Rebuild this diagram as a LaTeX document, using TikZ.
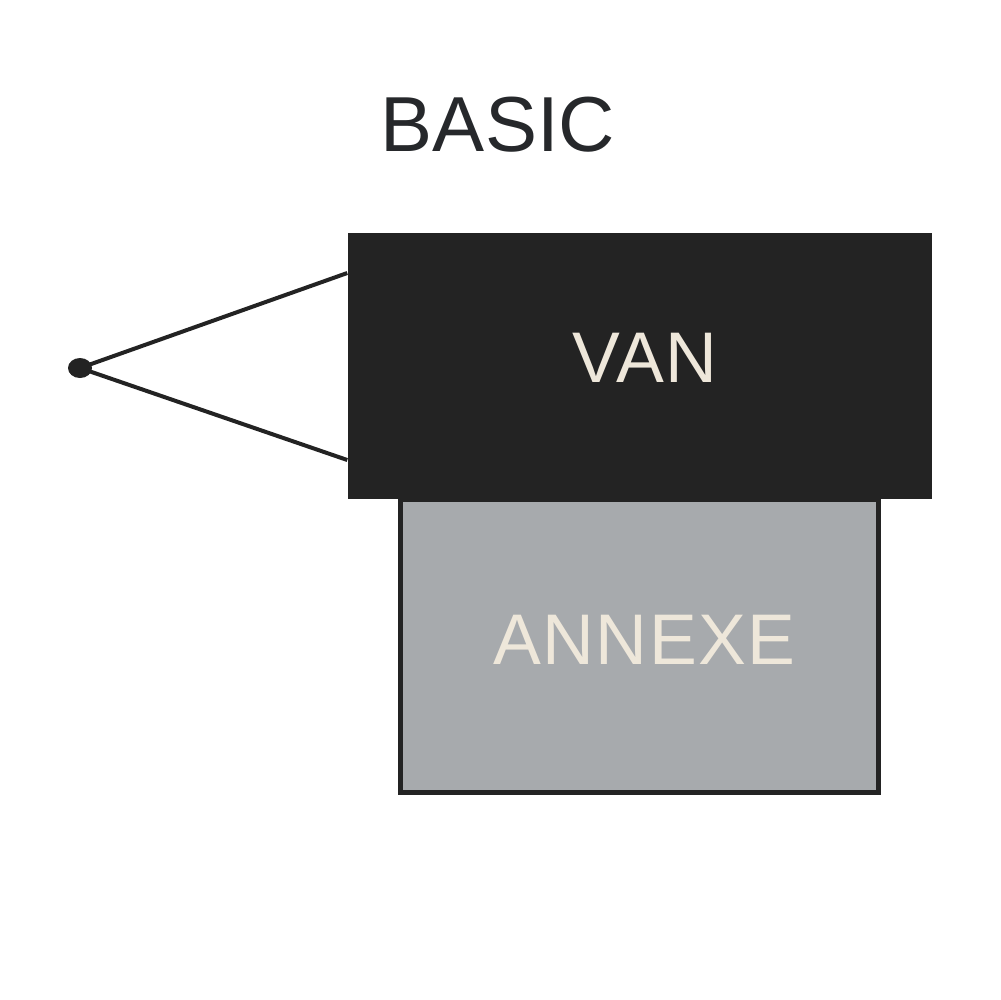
\documentclass[tikz,border=0pt]{standalone}
\usepackage{fontspec}
\setmainfont{Liberation Sans}
\newfontfamily\boxfont[LetterSpace=2]{Liberation Sans}
\usetikzlibrary{positioning,calc,shapes.geometric}
\definecolor{Ink}{RGB}{35,35,35}
\definecolor{Title}{RGB}{38,40,43}
\definecolor{Annexe}{RGB}{167,170,173}
\definecolor{Cream}{RGB}{238,231,218}
\tikzset{
  title/.style={font=\fontsize{22.2}{24}\selectfont,text=Title,inner sep=0pt},
  boxtext/.style={inner sep=0pt,text=Cream,font=\boxfont\fontsize{20.4}{22}\selectfont,
    execute at begin node=\hspace*{1mm}},
  vanbox/.style={boxtext,rectangle,fill=Ink,draw=none,minimum width=58.4mm,minimum height=26.6mm,
    text depth=1.6mm},
  annexebox/.style={boxtext,rectangle,fill=Annexe,draw=Ink,line width=0.45mm,minimum width=47.8mm,
    minimum height=29.3mm,text depth=1.2mm},
  hitch/.style={ellipse,fill=Ink,draw=none,minimum width=2.4mm,minimum height=2mm,inner sep=0pt},
  drawbar/.style={draw=Ink,line width=0.4mm}
}
\begin{document}
\begin{tikzpicture}[x=0.1mm,y=-0.1mm]
\useasboundingbox (0,0) rectangle (1000,1000);

\node[title] (basic) at (498,125) {BASIC};

\node[annexebox] (annexe) at (639.5,646) {ANNEXE};
\node[vanbox] (van) at (640,366) {VAN};

\node[hitch] (hitch) at (80,368) {};
\coordinate (vantop) at ($(van.west)+(0,-93)$);
\coordinate (vanlow) at ($(van.west)+(0,94)$);

\draw[drawbar] (vantop) -- (hitch.center) -- (vanlow);
\end{tikzpicture}
\end{document}
